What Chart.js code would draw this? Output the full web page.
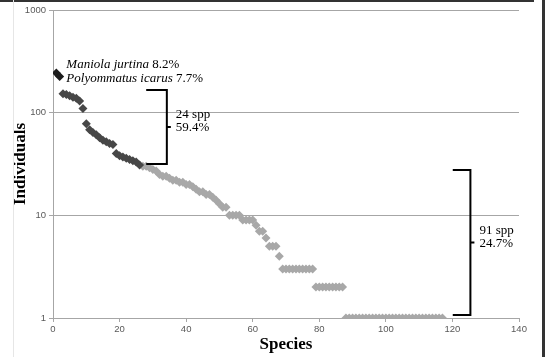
<!DOCTYPE html>
<html>
<head>
<meta charset="utf-8">
<script src="https://cdn.jsdelivr.net/npm/chart.js@4"></script>
<style>
  body { margin: 0; background: #fff; }
  canvas { display: block; }
</style>
</head>
<body>
<canvas id="rank_chart" width="545" height="357"></canvas>
<script>
const rankChart = document.querySelector('#rank_chart')

// individuals per species, ordered by rank (species 1..117)
const topCounts = [244, 225]
const commonCounts = [153, 150, 146, 141, 138, 130, 110, 78, 68, 64, 61, 57, 54, 52, 50, 49, 40, 38, 37, 36, 35, 34, 33, 31]
const rareCounts = [30, 30, 29, 28, 27, 25, 24, 24, 23, 22, 22, 21, 21, 20, 20, 19, 18, 17, 17, 16, 16, 15, 14, 13, 12, 12, 10, 10, 10, 10, 9, 9, 9, 9, 8, 7, 7, 6,
  5, 5, 5, 4,
  3, 3, 3, 3, 3, 3, 3, 3, 3, 3,
  2, 2, 2, 2, 2, 2, 2, 2, 2,
  1, 1, 1, 1, 1, 1, 1, 1, 1, 1, 1, 1, 1, 1, 1, 1, 1, 1, 1, 1, 1, 1, 1, 1, 1, 1, 1, 1, 1, 1]
const xTicks = [0, 20, 40, 60, 80, 100, 120, 140]
const yTicks = [1, 10, 100, 1000]

const topLabels = [['Maniola jurtina', ' 8.2%'], ['Polyommatus icarus', ' 7.7%']]
const commonLabel = ['24 spp', '59.4%']
const rareLabel = ['91 spp', '24.7%']

let start = 1
function toPoints(counts) {
  const pts = counts.map((c, i) => ({ x: start + i, y: c }))
  start += counts.length
  return pts
}
const topPoints = toPoints(topCounts)
const commonPoints = toPoints(commonCounts)
const rarePoints = toPoints(rareCounts)

const annotations = {
  id: 'annotations',
  afterDatasetsDraw(chart) {
    const { ctx, scales: { x, y } } = chart
    ctx.save()

    // species names for the two dominant species
    const serif = '"Liberation Serif", "DejaVu Serif", serif'
    ctx.fillStyle = '#000'
    ctx.textBaseline = 'middle'
    const lx = x.getPixelForValue(topPoints[0].x) + 10
    topLabels.forEach((parts, i) => {
      const ly = y.getPixelForValue(topPoints[0].y) - 8 + i * 14
      ctx.font = 'italic 13px ' + serif
      ctx.fillText(parts[0], lx, ly)
      const w = ctx.measureText(parts[0]).width
      ctx.font = '13px ' + serif
      ctx.fillText(parts[1], lx + w, ly)
    })

    function bracket(x1, x2, yTop, yBot, lines) {
      const px1 = x.getPixelForValue(x1)
      const px2 = x.getPixelForValue(x2)
      const pt = y.getPixelForValue(yTop)
      const pb = y.getPixelForValue(yBot)
      const pm = (pt + pb) / 2
      ctx.strokeStyle = '#000'
      ctx.lineWidth = 2
      ctx.beginPath()
      ctx.moveTo(px1, pt)
      ctx.lineTo(px2, pt)
      ctx.lineTo(px2, pb)
      ctx.lineTo(px1, pb)
      ctx.moveTo(px2, pm)
      ctx.lineTo(px2 + 4, pm)
      ctx.stroke()
      ctx.font = '13px ' + serif
      ctx.fillText(lines[0], px2 + 9, pm - 12)
      ctx.fillText(lines[1], px2 + 9, pm + 1)
    }

    const lastCommon = commonPoints[commonPoints.length - 1].x
    bracket(lastCommon + 2, lastCommon + 8.2, 166, 31.6, commonLabel)
    bracket(120.1, 125.4, 27.6, 1.07, rareLabel)

    // frame of the original picture
    ctx.fillStyle = '#333'
    ctx.fillRect(0, 0, 534, 2)
    ctx.fillRect(542, 0, 3, 357)
    ctx.fillStyle = '#e6e6e6'
    ctx.fillRect(13, 0, 1, 357)
    ctx.restore()
  }
}

const tickFont = { family: '"Liberation Sans", Arial, sans-serif', size: 9.5 }
const titleFont = { family: '"Liberation Serif", "DejaVu Serif", serif', size: 17, weight: 'bold' }

new Chart(rankChart, {
  type: 'scatter',
  data: {
    datasets: [
      { data: topPoints, backgroundColor: '#1c1c1c', pointStyle: 'rectRot', pointRadius: 4.5, borderWidth: 0 },
      { data: commonPoints, backgroundColor: '#474747', pointStyle: 'rectRot', pointRadius: 4.5, borderWidth: 0 },
      { data: rarePoints, backgroundColor: '#a8a8a8', pointStyle: 'rectRot', pointRadius: 4.5, borderWidth: 0 }
    ]
  },
  plugins: [annotations],
  options: {
    responsive: false,
    animation: false,
    layout: { padding: { top: 10, right: 26, left: 0, bottom: 0 } },
    plugins: {
      legend: { display: false },
      tooltip: { enabled: false }
    },
    scales: {
      x: {
        type: 'linear',
        min: 0,
        max: 140,
        afterBuildTicks: s => { s.ticks = xTicks.map(v => ({ value: v })) },
        afterFit: s => { s.height = 39 },
        ticks: { font: tickFont, color: '#595959', padding: 2, maxRotation: 0 },
        grid: { drawOnChartArea: false, tickLength: 4, color: '#a6a6a6' },
        border: { color: '#a6a6a6' },
        title: { display: true, text: 'Species', font: titleFont, color: '#000', padding: { top: 2, bottom: 2 } }
      },
      y: {
        type: 'logarithmic',
        min: 1,
        max: 1000,
        afterBuildTicks: s => { s.ticks = yTicks.map(v => ({ value: v })) },
        afterFit: s => { s.width = 53 },
        ticks: { font: tickFont, color: '#595959', padding: 3, callback: v => String(v) },
        grid: { tickLength: 4, color: '#a6a6a6' },
        border: { color: '#a6a6a6' },
        title: { display: true, text: 'Individuals', font: titleFont, color: '#000', padding: { top: 10, bottom: 8 } }
      }
    }
  }
})
</script>
</body>
</html>
